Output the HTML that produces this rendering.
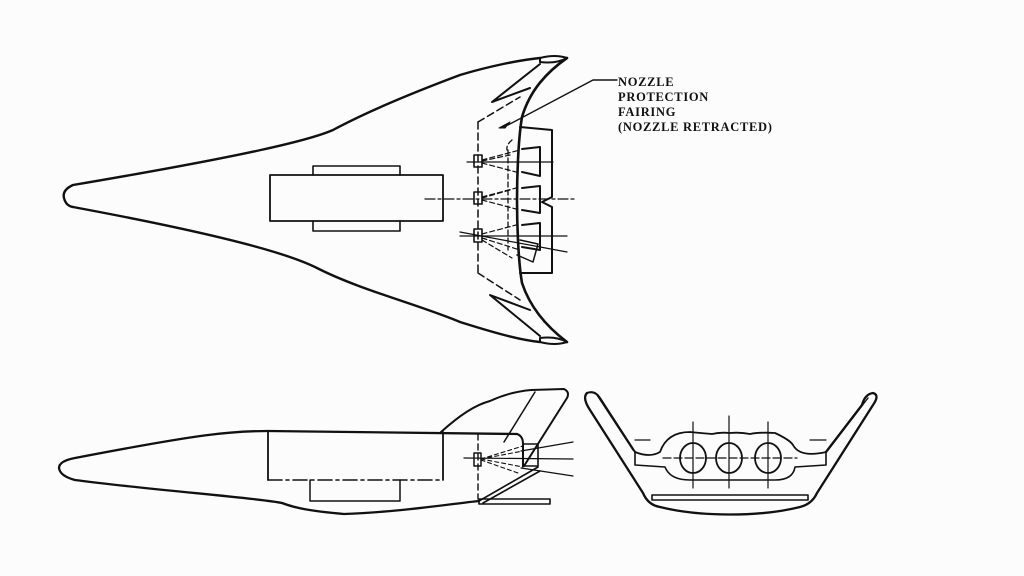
<!DOCTYPE html>
<html><head><meta charset="utf-8"><style>
html,body{margin:0;padding:0;background:#fff;width:1024px;height:576px;overflow:hidden}
svg{display:block}
text{font-family:"Liberation Serif",serif;font-weight:bold;font-size:12.5px;fill:#111;letter-spacing:0.7px}
</style></head><body>
<svg width="1024" height="576" viewBox="0 0 1024 576" xmlns="http://www.w3.org/2000/svg">
<rect width="1024" height="576" fill="#fcfcfc"/>
<g fill="none" stroke="#111" stroke-width="2" stroke-linejoin="round" stroke-linecap="round">
<!-- TOP VIEW outline -->
<path d="M540,58 C520,60 490,66 460,75 C420,90 370,110 333,130 C310,140 250,155 73,185 Q62,190 64,198 Q66,206 73,207 C250,240 297,258 317,268 C360,290 420,305 460,322 C495,333 520,340 540,342" stroke-width="2.4"/>
<path d="M540,58 Q555,54 567,58 Q556,64 540,62 Z"/>
<path d="M540,342 Q555,346 567,342 Q556,336 540,338 Z"/>
<path d="M567,58 C547,72 530,90 522,117 C518,140 517,180 517,200 C517,220 518,260 522,283 C530,307 547,327 567,342" stroke-width="2.6"/>
<path d="M540,64 L492,102 L530,88"/>
<path d="M540,336 L490,295 L530,310"/>
<path d="M478,122 L478,273" stroke-dasharray="7,4" stroke-width="1.5"/>
<path d="M478,122 L520,97" stroke-dasharray="7,4" stroke-width="1.5"/>
<path d="M478,273 L520,300" stroke-dasharray="7,4" stroke-width="1.5"/>
<path d="M520,127 L552,130 L552,197 L542,202 L552,207 L552,273 L520,273" stroke-width="2"/>
<path d="M512,140 Q506,145 507,150 M508,150 L508,250" stroke-dasharray="5,3" stroke-width="1.3"/>
<path d="M522,149 L540,147 L540,176 L522,172"/>
<path d="M522,188 L540,186 L540,213 L522,210"/>
<path d="M522,225 L540,223 L540,250 L522,247"/>
<path d="M520,240 L538,244 L533,262 L517,255" stroke-width="1.5"/>
<rect x="474" y="155" width="8" height="12" stroke-width="1.6"/>
<rect x="474" y="192" width="8" height="12" stroke-width="1.6"/>
<rect x="474" y="229" width="8" height="13" stroke-width="1.6"/>
<g stroke-width="1.2">
<line x1="467" y1="162" x2="553" y2="162"/>
<line x1="425" y1="199" x2="574" y2="199" stroke-dasharray="10,3,3,3"/>
<line x1="460" y1="236" x2="567" y2="236"/>
<line x1="460" y1="232" x2="567" y2="252"/>
</g>
<g stroke-width="1.2" stroke-dasharray="5,3">
<path d="M482,160 L520,150 M482,163 L520,173 M482,161 L510,155"/>
<path d="M482,197 L520,187 M482,200 L520,210 M482,198 L510,190"/>
<path d="M482,234 L520,224 M482,238 L520,250 M482,240 L512,258"/>
</g>
<rect x="270" y="175" width="173" height="46" stroke-width="1.8"/>
<path d="M313,175 L313,166 L400,166 L400,175" stroke-width="1.6"/>
<path d="M313,221 L313,231 L400,231 L400,221" stroke-width="1.6"/>
<path d="M508,125 L593,80 L617,80" stroke-width="1.4"/>
<path d="M499,128 L510,122 L505,128 Z" fill="#111" stroke-width="1"/>
<!-- SIDE VIEW -->
<path d="M517,434 C420,433 320,431 268,431 C230,431 200,434 75,458 Q59,461 59,468 Q60,476 75,480 C150,490 260,498 282,503 C295,508 310,511 344,514 C400,512 450,504 479,501" stroke-width="2.3"/>
<path d="M517,434 Q523,436 523,444 L523,466"/>
<path d="M441,432 C460,415 475,405 490,401 C505,394 520,391 531,390 L564,389 Q570,392 567,398 L524,466"/>
<path d="M535,392 L504,442" stroke-width="1.5"/>
<path d="M268,431 L268,480 M443,432 L443,480" stroke-width="1.8"/>
<path d="M268,480 L443,480" stroke-width="1.6" stroke-dasharray="14,4,3,4"/>
<path d="M310,480 L310,501 L400,501 L400,480" stroke-width="1.5"/>
<path d="M478,434 L478,499" stroke-dasharray="6,4" stroke-width="1.4"/>
<path d="M479,501 L538,467 M483,503 L540,471" stroke-width="1.6"/>
<path d="M479,499 L550,499 L550,504 L479,504 Z" stroke-width="1.6"/>
<rect x="523" y="444" width="15" height="22" stroke-width="1.6"/>
<rect x="474" y="453" width="7" height="13" stroke-width="1.5"/>
<g stroke-width="1.2">
<line x1="464" y1="458" x2="573" y2="459"/>
<line x1="521" y1="451" x2="573" y2="442"/>
<line x1="521" y1="468" x2="573" y2="476"/>
</g>
<path d="M481,459 L523,446 M481,459 L523,451 M481,459 L523,467 M481,460 L518,473" stroke-width="1.1" stroke-dasharray="4,3"/>
<!-- FRONT VIEW -->
<path d="M587,393 Q582,398 590,410 L643,493 Q648,505 660,507 C700,517 760,517 800,507 Q812,504 817,493 L873,405 Q880,395 873,393 Q865,394 862,405 L826,452" stroke-width="2.3"/>
<path d="M587,393 Q595,390 600,398 L635,452" stroke-width="2"/>
<path d="M597,395 L633,450 M868,398 L828,450" stroke-width="1.4"/>
<path d="M635,452 Q650,458 660,452 Q667,432 690,432 Q700,433 712,434 Q720,432 730,433 Q740,432 750,434 Q760,432 775,433 Q790,440 793,445 Q800,458 826,452" stroke-width="1.8"/>
<path d="M635,452 L635,465 L665,467 Q670,480 690,480 L775,480 Q793,480 795,467 L826,465 L826,452" stroke-width="1.6"/>
<path d="M635,440 L650,440 M810,440 L826,440" stroke-width="1.2"/>
<ellipse cx="693" cy="458" rx="13" ry="15" stroke-width="1.8"/>
<ellipse cx="729" cy="458" rx="13" ry="15" stroke-width="1.8"/>
<ellipse cx="768" cy="458" rx="13" ry="15" stroke-width="1.8"/>
<g stroke-width="1.2">
<line x1="693" y1="422" x2="693" y2="488"/>
<line x1="729" y1="416" x2="729" y2="488"/>
<line x1="768" y1="422" x2="768" y2="488"/>
<line x1="663" y1="458" x2="797" y2="458" stroke-dasharray="8,3"/>
</g>
<rect x="652" y="495" width="156" height="5" stroke-width="1.6"/>
</g>
<text x="618" y="86">NOZZLE</text>
<text x="618" y="101">PROTECTION</text>
<text x="618" y="116">FAIRING</text>
<text x="618" y="131">(NOZZLE RETRACTED)</text>
</svg>
</body></html>
